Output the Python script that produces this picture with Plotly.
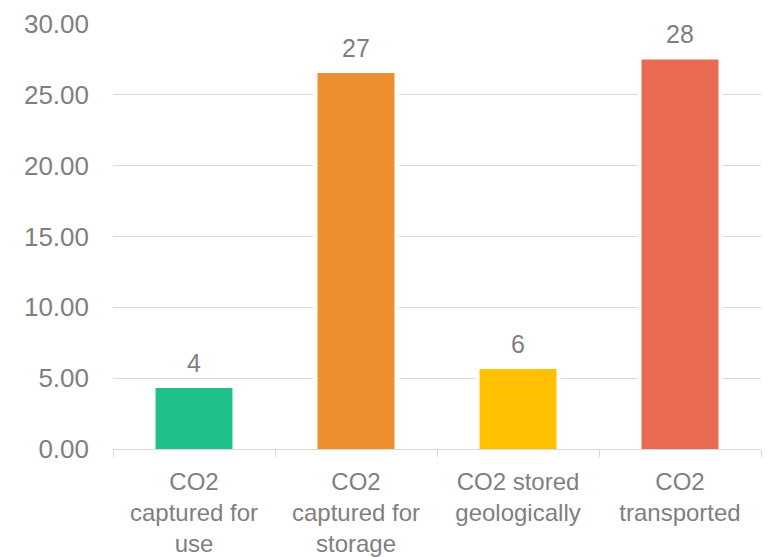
import plotly.graph_objects as go

categories = ["CO2<br>captured for<br>use", "CO2<br>captured for<br>storage",
              "CO2 stored<br>geologically", "CO2<br>transported"]
values = [4.3, 26.55, 5.65, 27.5]
colors = ["#20C08A", "#ED8E2F", "#FFC000", "#E86A52"]
labels = ["4", "27", "6", "28"]

GRAY = "#7f7f7f"
LINE = "#d9d9d9"
FONT = "Liberation Sans, Arial, sans-serif"

fig = go.Figure()
# white halo behind bars (breaks gridlines around the bars)
fig.add_trace(go.Bar(x=categories, y=values, width=0.525,
                     marker=dict(color="white", line=dict(width=0)),
                     hoverinfo="skip"))
fig.add_trace(go.Bar(x=categories, y=values, width=0.475,
                     marker=dict(color=colors, line=dict(width=0)),
                     hoverinfo="skip"))

for c, v, t in zip(categories, values, labels):
    fig.add_annotation(x=c, y=v, text=t, showarrow=False, yanchor="bottom",
                       yshift=9, font=dict(size=25, color=GRAY, family=FONT))

fig.update_layout(
    width=763, height=549,
    margin=dict(l=105, r=10, t=16, b=108),
    paper_bgcolor="white", plot_bgcolor="white",
    barmode="overlay", showlegend=False,
    font=dict(family=FONT, size=25, color=GRAY),
)
fig.update_yaxes(range=[0, 30], dtick=5, tickformat=".2f", showgrid=True,
                 gridcolor=LINE, gridwidth=1, zeroline=False, showline=False,
                 ticks="", ticklabelstandoff=23, automargin=False,
                 tickfont=dict(size=26, color=GRAY, family=FONT))
fig.update_xaxes(showline=True, linecolor=LINE, linewidth=1,
                 ticks="outside", tickson="boundaries", ticklen=7,
                 tickcolor=LINE, tickwidth=1, ticklabelstandoff=11,
                 automargin=False,
                 tickfont=dict(size=24, color=GRAY, family=FONT))

fig.write_html("out.html")
